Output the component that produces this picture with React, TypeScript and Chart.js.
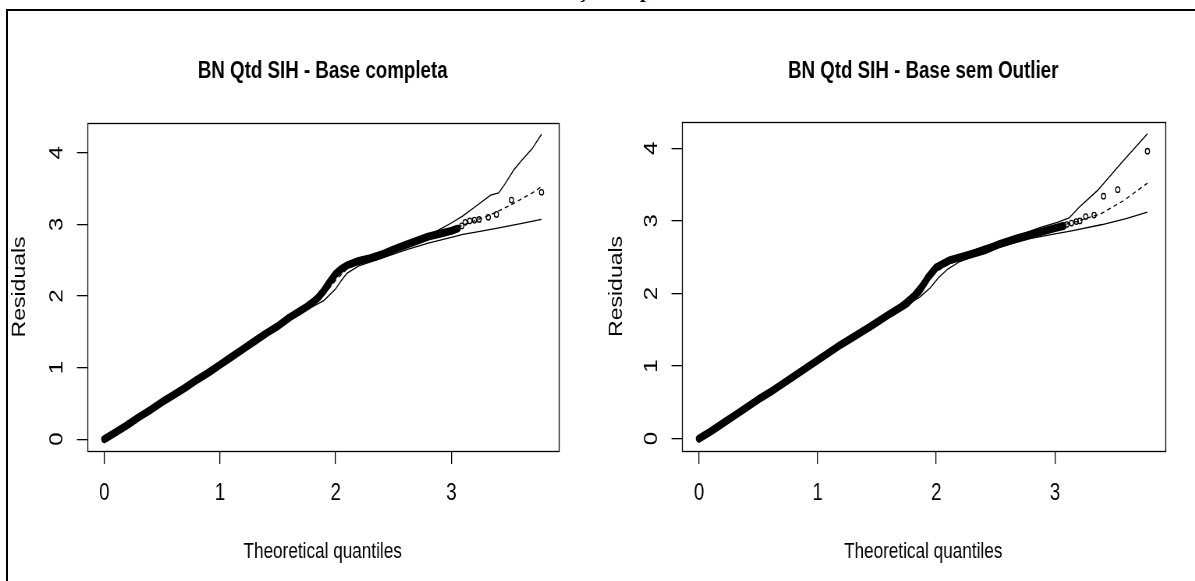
import React, { useEffect, useRef } from "react";
import { Chart, registerables } from "chart.js";

Chart.register(...registerables);

// ---------- texts & ticks ----------
const titleLeft = "BN Qtd SIH - Base completa";
const titleRight = "BN Qtd SIH - Base sem Outlier";
const xAxisTitle = "Theoretical quantiles";
const yAxisTitle = "Residuals";
const xTicks = [0, 1, 2, 3];
const yTicks = [0, 1, 2, 3, 4];

// ---------- left panel: Base completa ----------
const compDenseX = [0, 0.1, 0.2, 0.3, 0.4, 0.5, 0.6, 0.7, 0.8, 0.9, 1.0, 1.1, 1.2, 1.3, 1.4, 1.5, 1.6, 1.7, 1.75, 1.8, 1.85, 1.9, 1.95, 2.0, 2.05, 2.1, 2.2, 2.3, 2.4, 2.5, 2.6, 2.7, 2.8, 2.9, 3.0, 3.05];
const compDenseY = [0, 0.1, 0.2, 0.31, 0.41, 0.52, 0.62, 0.72, 0.83, 0.93, 1.04, 1.15, 1.26, 1.37, 1.48, 1.58, 1.7, 1.8, 1.85, 1.91, 1.98, 2.08, 2.2, 2.31, 2.38, 2.43, 2.49, 2.53, 2.58, 2.65, 2.71, 2.77, 2.83, 2.87, 2.91, 2.94];
const compTailX = [3.03, 3.06, 3.09, 3.12, 3.16, 3.2, 3.24, 3.32, 3.39, 3.52, 3.78];
const compTailY = [2.93, 2.95, 2.98, 3.03, 3.05, 3.06, 3.07, 3.1, 3.14, 3.34, 3.45];
const compLowX = [0, 0.5, 1.0, 1.5, 1.7, 1.8, 1.9, 2.0, 2.05, 2.1, 2.2, 2.4, 2.6, 2.8, 3.0, 3.1, 3.2, 3.4, 3.6, 3.78];
const compLowY = [0, 0.51, 1.02, 1.57, 1.77, 1.85, 1.94, 2.1, 2.22, 2.32, 2.42, 2.53, 2.64, 2.74, 2.82, 2.86, 2.89, 2.95, 3.01, 3.07];
const compMidX = [0, 0.5, 1.0, 1.5, 1.7, 1.8, 1.9, 2.0, 2.1, 2.2, 2.4, 2.6, 2.8, 3.0, 3.1, 3.2, 3.3, 3.4, 3.5, 3.6, 3.7, 3.78];
const compMidY = [0, 0.51, 1.03, 1.57, 1.78, 1.89, 2.02, 2.22, 2.38, 2.46, 2.56, 2.68, 2.8, 2.92, 2.99, 3.05, 3.11, 3.18, 3.26, 3.35, 3.44, 3.53];
const compUpX = [0, 0.5, 1.0, 1.5, 1.7, 1.8, 1.9, 2.0, 2.1, 2.2, 2.4, 2.6, 2.8, 2.9, 3.0, 3.1, 3.2, 3.34, 3.41, 3.47, 3.54, 3.6, 3.7, 3.78];
const compUpY = [0.02, 0.53, 1.06, 1.6, 1.82, 1.95, 2.12, 2.31, 2.42, 2.49, 2.6, 2.72, 2.84, 2.93, 3.02, 3.12, 3.24, 3.41, 3.44, 3.58, 3.76, 3.88, 4.06, 4.26];

// ---------- right panel: Base sem Outlier ----------
const semDenseX = [0, 0.1, 0.2, 0.3, 0.4, 0.5, 0.6, 0.7, 0.8, 0.9, 1.0, 1.1, 1.2, 1.3, 1.44, 1.61, 1.75, 1.86, 1.93, 2.0, 2.11, 2.25, 2.4, 2.54, 2.7, 2.8, 2.93, 3.0, 3.07];
const semDenseY = [0, 0.1, 0.21, 0.32, 0.43, 0.54, 0.64, 0.75, 0.86, 0.97, 1.08, 1.19, 1.3, 1.4, 1.54, 1.72, 1.86, 2.04, 2.22, 2.36, 2.455, 2.52, 2.59, 2.685, 2.77, 2.81, 2.87, 2.9, 2.93];
const semTailX = [3.1, 3.14, 3.18, 3.21, 3.26, 3.33, 3.41, 3.53, 3.78];
const semTailY = [2.95, 2.97, 2.99, 3.0, 3.06, 3.08, 3.34, 3.43, 3.96];
const semLowX = [0, 0.5, 1.0, 1.5, 1.7, 1.78, 1.86, 1.95, 2.02, 2.1, 2.2, 2.4, 2.6, 2.8, 3.0, 3.13, 3.4, 3.6, 3.78];
const semLowY = [0, 0.53, 1.05, 1.6, 1.81, 1.87, 1.95, 2.08, 2.22, 2.34, 2.44, 2.57, 2.67, 2.76, 2.82, 2.86, 2.95, 3.03, 3.12];
const semMidX = [0, 0.5, 1.0, 1.5, 1.7, 1.8, 1.9, 2.0, 2.1, 2.2, 2.4, 2.6, 2.8, 3.0, 3.2, 3.39, 3.58, 3.78];
const semMidY = [0, 0.53, 1.06, 1.62, 1.83, 1.96, 2.13, 2.3, 2.4, 2.47, 2.6, 2.71, 2.8, 2.91, 3.0, 3.1, 3.28, 3.52];
const semUpX = [0, 0.5, 1.0, 1.5, 1.7, 1.8, 1.9, 1.95, 2.1, 2.4, 2.6, 2.88, 3.02, 3.12, 3.2, 3.36, 3.556, 3.78];
const semUpY = [0.02, 0.55, 1.08, 1.63, 1.86, 2.0, 2.2, 2.3, 2.47, 2.65, 2.75, 2.91, 2.98, 3.04, 3.18, 3.42, 3.79, 4.2];

// The reference figure is squeezed horizontally: draw wide, show narrow.
const SQUEEZE = 0.78;
const FONT = "'Liberation Sans', Arial, sans-serif";

const zip = (xs: number[], ys: number[]) => xs.map((x, i) => ({ x, y: ys[i] }));

const boxPlugin = {
  id: "rbox",
  afterDraw(chart: any) {
    const { ctx, chartArea: a } = chart;
    ctx.save();
    ctx.strokeStyle = "#000";
    ctx.lineWidth = 1.3;
    ctx.strokeRect(Math.round(a.left) + 0.5, Math.round(a.top) + 0.5, Math.round(a.right - a.left), Math.round(a.bottom - a.top));
    ctx.restore();
  },
};

const yRotPlugin = {
  id: "yrot",
  afterDraw(chart: any, _args: any, opts: any) {
    const s = chart.scales.y;
    const ctx = chart.ctx;
    ctx.save();
    ctx.fillStyle = "#000";
    ctx.font = "24px " + FONT;
    ctx.textAlign = "center";
    ctx.textBaseline = "middle";
    for (const t of s.ticks) {
      const py = s.getPixelForValue(t.value);
      ctx.save();
      ctx.translate(chart.chartArea.left - opts.offset, py);
      ctx.rotate(-Math.PI / 2);
      ctx.fillText(String(t.value), 0, 0);
      ctx.restore();
    }
    ctx.restore();
  },
};

type Panel = {
  title: string;
  denseX: number[]; denseY: number[];
  tailX: number[]; tailY: number[];
  lowX: number[]; lowY: number[];
  midX: number[]; midY: number[];
  upX: number[]; upY: number[];
  xMin: number; xMax: number; yMin: number; yMax: number;
  yAxisWidth: number; padRight: number; titleTop: number; titleBottom: number;
};

function makeConfig(p: Panel): any {
  const thin = { showLine: true, borderColor: "#000", borderWidth: 1.3, pointRadius: 0, fill: false };
  return {
    type: "scatter",
    data: {
      datasets: [
        { label: "Envelope inferior", data: zip(p.lowX, p.lowY), ...thin },
        { label: "Média", data: zip(p.midX, p.midY), ...thin, borderDash: [5, 4] },
        { label: "Envelope superior", data: zip(p.upX, p.upY), ...thin },
        {
          label: "Resíduos", data: zip(p.denseX, p.denseY), showLine: true, borderColor: "#000",
          borderWidth: 8, borderCapStyle: "round", borderJoinStyle: "round", pointRadius: 0,
        },
        {
          label: "Resíduos (cauda)", data: zip(p.tailX, p.tailY), showLine: false, pointRadius: 2.7,
          pointBorderWidth: 1.3, borderColor: "#000", pointBorderColor: "#000", backgroundColor: "rgba(0,0,0,0)", pointBackgroundColor: "rgba(0,0,0,0)",
        },
      ],
    },
    options: {
      animation: false,
      responsive: false,
      devicePixelRatio: 1,
      events: [],
      layout: { padding: { left: 0, right: p.padRight, top: 0, bottom: 0 } },
      plugins: {
        legend: { display: false },
        tooltip: { enabled: false },
        yrot: { offset: 30 / SQUEEZE },
        title: {
          display: true, text: p.title, fullSize: false, color: "#000",
          font: { family: FONT, size: 24, weight: "bold" },
          padding: { top: p.titleTop, bottom: p.titleBottom },
        },
      },
      scales: {
        x: {
          type: "linear", position: "bottom", min: p.xMin, max: p.xMax,
          afterBuildTicks: (s: any) => { s.ticks = xTicks.map((v) => ({ value: v })); },
          afterFit: (s: any) => { s.height = 130; },
          grid: { display: true, drawOnChartArea: false, drawTicks: true, tickLength: 13, color: "#000", lineWidth: 1.3 },
          border: { display: false },
          ticks: { color: "#000", font: { family: FONT, size: 24 }, padding: 15, minRotation: 0, maxRotation: 0, autoSkip: false, callback: (v: any) => String(v) },
          title: { display: true, text: xAxisTitle, color: "#000", font: { family: FONT, size: 22 }, padding: { top: 0, bottom: 16 } },
        },
        y: {
          type: "linear", position: "left", min: p.yMin, max: p.yMax,
          afterBuildTicks: (s: any) => { s.ticks = yTicks.map((v) => ({ value: v })); },
          afterFit: (s: any) => { s.width = p.yAxisWidth; },
          grid: { display: true, drawOnChartArea: false, drawTicks: true, tickLength: 13, color: "#000", lineWidth: 1.3 },
          border: { display: false },
          ticks: { display: false },
          title: { display: true, text: yAxisTitle, color: "#000", font: { family: FONT, size: 23 }, padding: { top: 20 / SQUEEZE - 13.8, bottom: 0 } },
        },
      },
    },
    plugins: [boxPlugin, yRotPlugin],
  };
}

const LEFT_CSS_W = 597;
const RIGHT_CSS_W = 598;
const LEFT_W = Math.round(LEFT_CSS_W / SQUEEZE);
const RIGHT_W = Math.round(RIGHT_CSS_W / SQUEEZE);

const leftPanel: Panel = {
  title: titleLeft,
  denseX: compDenseX, denseY: compDenseY, tailX: compTailX, tailY: compTailY,
  lowX: compLowX, lowY: compLowY, midX: compMidX, midY: compMidY, upX: compUpX, upY: compUpY,
  xMin: -0.15, xMax: 3.925, yMin: -0.165, yMax: 4.42,
  yAxisWidth: 87 / SQUEEZE, padRight: LEFT_W - 558 / SQUEEZE, titleTop: 57, titleBottom: 37,
};

const rightPanel: Panel = {
  title: titleRight,
  denseX: semDenseX, denseY: semDenseY, tailX: semTailX, tailY: semTailY,
  lowX: semLowX, lowY: semLowY, midX: semMidX, midY: semMidY, upX: semUpX, upY: semUpY,
  xMin: -0.146, xMax: 3.926, yMin: -0.17, yMax: 4.365,
  yAxisWidth: 84.7 / SQUEEZE, padRight: RIGHT_W - 568 / SQUEEZE, titleTop: 57, titleBottom: 36,
};

export default function App() {
  const leftRef = useRef<HTMLCanvasElement | null>(null);
  const rightRef = useRef<HTMLCanvasElement | null>(null);

  useEffect(() => {
    const charts: Chart[] = [];
    if (leftRef.current) charts.push(new Chart(leftRef.current, makeConfig(leftPanel)));
    if (rightRef.current) charts.push(new Chart(rightRef.current, makeConfig(rightPanel)));
    return () => { charts.forEach((c) => c.destroy()); };
  }, []);

  const frag = { position: "absolute" as const, top: -20, font: "bold 20px 'Liberation Serif', 'Times New Roman', serif", lineHeight: "20px", color: "#000", whiteSpace: "nowrap" as const };

  return (
    <div style={{ position: "absolute", left: 0, top: 0, width: 1195, height: 581, overflow: "hidden", background: "#fff" }}>
      <span style={{ ...frag, left: 578 }}>ção</span>
      <span style={{ ...frag, left: 640 }}>p</span>
      <div style={{ position: "absolute", left: 6, top: 9, width: 1400, height: 800, borderTop: "2px solid #000", borderLeft: "2px solid #000" }} />
      <canvas ref={leftRef} width={LEFT_W} height={581} style={{ position: "absolute", left: 0, top: 0, width: LEFT_CSS_W, height: 581, display: "block" }} />
      <canvas ref={rightRef} width={RIGHT_W} height={581} style={{ position: "absolute", left: LEFT_CSS_W, top: 0, width: RIGHT_CSS_W, height: 581, display: "block" }} />
    </div>
  );
}
